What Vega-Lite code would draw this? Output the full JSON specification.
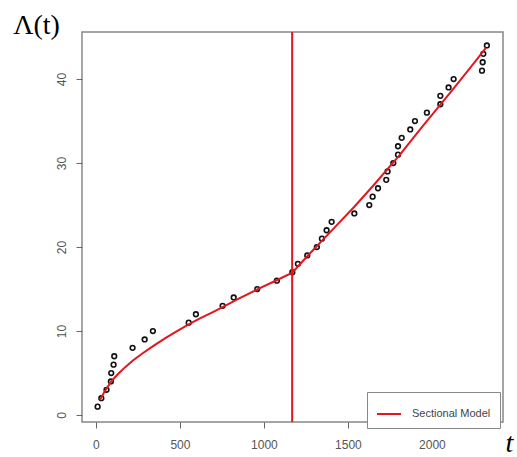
{
  "$schema": "https://vega.github.io/schema/vega-lite/v6.json",
  "autosize": "none",
  "width": 421,
  "height": 390,
  "padding": {"left": 82, "top": 32, "right": 14, "bottom": 35},
  "background": "white",
  "config": {
    "view": {"stroke": "#888888", "strokeWidth": 1.5},
    "axis": {
      "grid": false,
      "domain": false,
      "tickColor": "#666666",
      "tickSize": 6,
      "labelColor": "#555555",
      "labelFont": "Liberation Sans",
      "labelFontSize": 12
    },
    "legend": {
      "orient": "none",
      "legendX": 285,
      "legendY": 360,
      "strokeColor": "#888888",
      "fillColor": "white",
      "padding": 9,
      "symbolType": "stroke",
      "symbolSize": 576,
      "symbolStrokeWidth": 2,
      "labelFont": "Liberation Sans",
      "labelFontSize": 11,
      "labelColor": "#444444",
      "labelOffset": 10
    }
  },
  "datasets": {
    "obs": [
      {"t": 10, "y": 1}, {"t": 32, "y": 2}, {"t": 63, "y": 3}, {"t": 89, "y": 4},
      {"t": 91, "y": 5}, {"t": 105, "y": 6}, {"t": 109, "y": 7}, {"t": 218, "y": 8},
      {"t": 290, "y": 9}, {"t": 339, "y": 10}, {"t": 552, "y": 11}, {"t": 595, "y": 12},
      {"t": 754, "y": 13}, {"t": 820, "y": 14}, {"t": 960, "y": 15}, {"t": 1077, "y": 16},
      {"t": 1169, "y": 17}, {"t": 1202, "y": 18}, {"t": 1258, "y": 19}, {"t": 1315, "y": 20},
      {"t": 1345, "y": 21}, {"t": 1373, "y": 22}, {"t": 1403, "y": 23}, {"t": 1538, "y": 24},
      {"t": 1627, "y": 25}, {"t": 1647, "y": 26}, {"t": 1679, "y": 27}, {"t": 1728, "y": 28},
      {"t": 1736, "y": 29}, {"t": 1770, "y": 30}, {"t": 1798, "y": 31}, {"t": 1798, "y": 32},
      {"t": 1820, "y": 33}, {"t": 1871, "y": 34}, {"t": 1899, "y": 35}, {"t": 1970, "y": 36},
      {"t": 2050, "y": 37}, {"t": 2050, "y": 38}, {"t": 2099, "y": 39}, {"t": 2129, "y": 40},
      {"t": 2298, "y": 41}, {"t": 2302, "y": 42}, {"t": 2306, "y": 43}, {"t": 2327, "y": 44}
    ],
    "model": [
      {"t": 24, "v": 1.8, "series": "Sectional Model"},
      {"t": 50, "v": 2.75, "series": "Sectional Model"},
      {"t": 91, "v": 4.0, "series": "Sectional Model"},
      {"t": 130, "v": 4.85, "series": "Sectional Model"},
      {"t": 174, "v": 5.7, "series": "Sectional Model"},
      {"t": 220, "v": 6.5, "series": "Sectional Model"},
      {"t": 274, "v": 7.3, "series": "Sectional Model"},
      {"t": 340, "v": 8.2, "series": "Sectional Model"},
      {"t": 413, "v": 9.15, "series": "Sectional Model"},
      {"t": 480, "v": 9.95, "series": "Sectional Model"},
      {"t": 552, "v": 10.8, "series": "Sectional Model"},
      {"t": 619, "v": 11.5, "series": "Sectional Model"},
      {"t": 690, "v": 12.2, "series": "Sectional Model"},
      {"t": 754, "v": 12.85, "series": "Sectional Model"},
      {"t": 850, "v": 13.85, "series": "Sectional Model"},
      {"t": 960, "v": 14.95, "series": "Sectional Model"},
      {"t": 1060, "v": 15.9, "series": "Sectional Model"},
      {"t": 1169, "v": 16.95, "series": "Sectional Model"},
      {"t": 1214, "v": 17.95, "series": "Sectional Model"},
      {"t": 1258, "v": 18.9, "series": "Sectional Model"},
      {"t": 1300, "v": 19.8, "series": "Sectional Model"},
      {"t": 1400, "v": 21.9, "series": "Sectional Model"},
      {"t": 1538, "v": 24.8, "series": "Sectional Model"},
      {"t": 1650, "v": 27.3, "series": "Sectional Model"},
      {"t": 1810, "v": 31.0, "series": "Sectional Model"},
      {"t": 1869, "v": 32.5, "series": "Sectional Model"},
      {"t": 1950, "v": 34.5, "series": "Sectional Model"},
      {"t": 2048, "v": 36.9, "series": "Sectional Model"},
      {"t": 2150, "v": 39.4, "series": "Sectional Model"},
      {"t": 2250, "v": 41.9, "series": "Sectional Model"},
      {"t": 2321, "v": 43.7, "series": "Sectional Model"}
    ],
    "cut": [{"t": 1168}]
  },
  "layer": [
    {
      "data": {"name": "obs"},
      "mark": {"type": "point", "filled": false, "color": "#111111", "size": 22, "strokeWidth": 1.6, "opacity": 1},
      "encoding": {
        "x": {
          "field": "t", "type": "quantitative",
          "scale": {"domain": [-83, 2423], "nice": false, "zero": false},
          "axis": {
            "values": [0, 500, 1000, 1500, 2000],
            "format": "d",
            "labelPadding": 11,
            "title": "t",
            "titleFont": "Liberation Serif",
            "titleFontStyle": "italic",
            "titleFontWeight": "normal",
            "titleFontSize": 28,
            "titleColor": "#000000",
            "titleX": 427,
            "titleY": 29,
            "titleAlign": "center",
            "titleBaseline": "alphabetic"
          }
        },
        "y": {
          "field": "y", "type": "quantitative",
          "scale": {"domain": [-0.83, 45.6], "nice": false, "zero": false},
          "axis": {
            "values": [0, 10, 20, 30, 40],
            "labelAngle": 270,
            "labelAlign": "center",
            "labelBaseline": "bottom",
            "labelPadding": 8,
            "title": "Λ(t)",
            "titleAngle": 0,
            "titleFont": "Liberation Serif",
            "titleFontWeight": "normal",
            "titleFontSize": 28,
            "titleColor": "#000000",
            "titleX": -46,
            "titleY": 1,
            "titleAlign": "center",
            "titleBaseline": "alphabetic"
          }
        }
      }
    },
    {
      "data": {"name": "model"},
      "mark": {"type": "line", "strokeWidth": 2, "interpolate": "linear"},
      "encoding": {
        "x": {"field": "t", "type": "quantitative"},
        "y": {"field": "v", "type": "quantitative"},
        "color": {
          "field": "series", "type": "nominal",
          "scale": {"domain": ["Sectional Model"], "range": ["#e3161f"]},
          "legend": {"title": null}
        }
      }
    },
    {
      "data": {"name": "cut"},
      "mark": {"type": "rule", "color": "#e3161f", "strokeWidth": 2},
      "encoding": {
        "x": {"field": "t", "type": "quantitative"}
      }
    }
  ]
}
